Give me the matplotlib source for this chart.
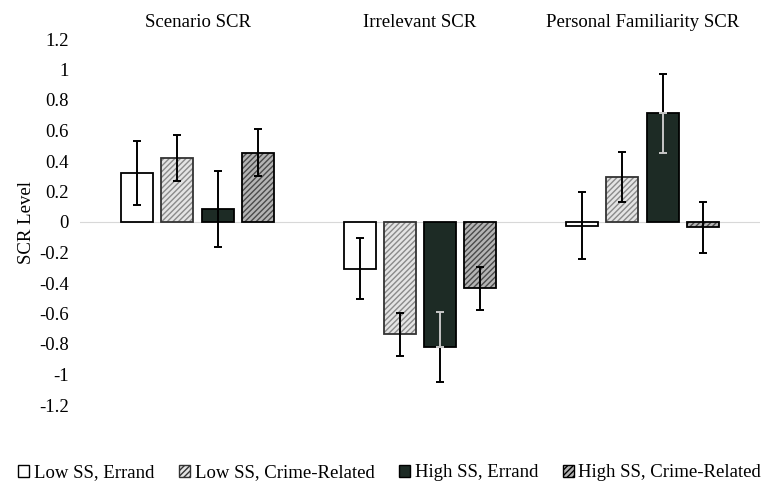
import numpy as np
import matplotlib
matplotlib.use("Agg")
import matplotlib.pyplot as plt

plt.rcParams["font.family"] = ["Liberation Serif", "DejaVu Serif"]

groups = ["Scenario SCR", "Irrelevant SCR", "Personal Familiarity SCR"]
series = ["Low SS, Errand", "Low SS, Crime-Related", "High SS, Errand", "High SS, Crime-Related"]

# mean SCR per series, one value per group
low_errand = [0.32, -0.306, -0.025]
low_crime = [0.42, -0.737, 0.297]
high_errand = [0.087, -0.818, 0.713]
high_crime = [0.455, -0.435, -0.035]

# error bar half-lengths
low_errand_err = [0.21, 0.20, 0.22]
low_crime_err = [0.15, 0.14, 0.165]
high_errand_err = [0.25, 0.23, 0.26]
high_crime_err = [0.155, 0.14, 0.165]

yticks = [1.2, 1, 0.8, 0.6, 0.4, 0.2, 0, -0.2, -0.4, -0.6, -0.8, -1, -1.2]
ytick_labels = ["1.2", "1", "0.8", "0.6", "0.4", "0.2", "0", "-0.2", "-0.4", "-0.6", "-0.8", "-1", "-1.2"]

values = [low_errand, low_crime, high_errand, high_crime]
errors = [low_errand_err, low_crime_err, high_errand_err, high_crime_err]

styles = [
    dict(face="white", hatch=None, hatch_col=None, edge="black"),
    dict(face="#e4e4e4", hatch="//////", hatch_col="#8a8a8a", edge="#333333"),
    dict(face="#1d2b25", hatch=None, hatch_col=None, edge="black"),
    dict(face="#b4b4b4", hatch="//////", hatch_col="#4a4a4a", edge="black"),
]

fig = plt.figure(figsize=(7.61, 4.87), dpi=100)
ax = fig.add_axes([80 / 761, 82 / 487, 680 / 761, 366 / 487])

x = np.arange(len(groups))
width = 0.144
offsets = [-0.272, -0.092, 0.092, 0.272]

ax.axhline(0, color="#d8d8d8", lw=0.8, zorder=0)

handles = []
for i, name in enumerate(series):
    st = styles[i]
    xs = x + offsets[i]
    if st["hatch"]:
        ax.bar(xs, values[i], width, color=st["face"], edgecolor=st["hatch_col"],
               hatch=st["hatch"], linewidth=0, zorder=2)
        ax.bar(xs, values[i], width, facecolor="none", edgecolor=st["edge"],
               linewidth=1.3, zorder=3)
    else:
        ax.bar(xs, values[i], width, color=st["face"], edgecolor=st["edge"],
               linewidth=1.3, zorder=3)
    handles.append(ax.bar([np.nan], [np.nan], color=st["face"], edgecolor=st["edge"],
                          hatch=st["hatch"], linewidth=1.0))
    ax.errorbar(xs, values[i], yerr=errors[i], fmt="none", ecolor="black",
                elinewidth=1.4, capsize=3, capthick=1.4, zorder=4)

# light part of error bar drawn inside the dark bar
v = np.array(high_errand)
e = np.array(high_errand_err)
inside = e < np.abs(v)
down = np.where((v > 0) & inside, e, 0)
up = np.where((v < 0) & inside, e, 0)
ax.errorbar((x + offsets[2])[inside], v[inside], yerr=[down[inside], up[inside]],
            fmt="none", ecolor="#c8c8c8", elinewidth=1.4, capsize=3, capthick=1.4, zorder=5)

ax.set_xlim(-0.53, 2.53)
ax.set_ylim(-1.2, 1.2)
ax.set_yticks(yticks)
ax.set_yticklabels(ytick_labels)
ax.xaxis.tick_top()
ax.set_xticks(x)
ax.set_xticklabels(groups)
ax.tick_params(axis="both", length=0, labelsize=13.5)
ax.tick_params(axis="x", pad=6)
ax.tick_params(axis="y", pad=8)
for s in ax.spines.values():
    s.set_visible(False)

ax.set_ylabel("SCR Level", fontsize=13.5)
ax.yaxis.set_label_coords(-0.066, 0.5)

fig.legend(handles, series, loc="center", bbox_to_anchor=(0.512, 0.029), ncol=4,
           frameon=False, fontsize=13.5, handlelength=0.6, handleheight=0.6,
           handletextpad=0.25, columnspacing=1.3, borderaxespad=0)

fig.savefig("out.png", dpi=100)
